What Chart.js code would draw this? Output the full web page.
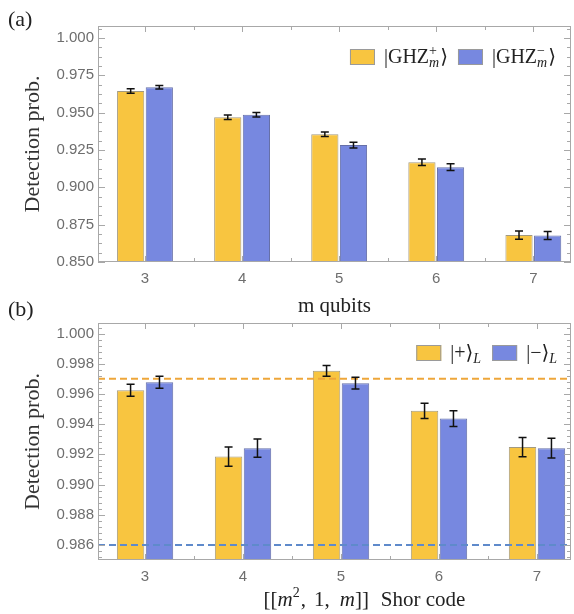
<!DOCTYPE html>
<html>
<head>
<meta charset="utf-8">
<script src="https://cdn.jsdelivr.net/npm/chart.js@4.4.1/dist/chart.umd.min.js"></script>
<style>
  body { margin: 0; background: #fff; }
  #wrap { position: relative; width: 574px; height: 614px; }
  canvas { position: absolute; left: 0; }
  #chartA { top: 0; }
  #chartB { top: 298px; }
  .painel { position: absolute; left: 8px; font: 22px "Liberation Serif", "DejaVu Serif", serif; color: #222; z-index: 2; }
</style>
</head>
<body>
<div id="wrap">
  <canvas id="chartA" width="574" height="316"></canvas>
  <canvas id="chartB" width="574" height="316"></canvas>
  <div class="painel" style="top:6px">(a)</div>
  <div class="painel" style="top:296px">(b)</div>
</div>
<script>
// Dados - painel (a): estados GHZ
const categorias = [3, 4, 5, 6, 7];
const ghzMais = [0.9645, 0.9469, 0.9355, 0.9168, 0.8680];
const ghzMaisErro = [0.0015, 0.0015, 0.0015, 0.0022, 0.0027];
const ghzMenos = [0.9670, 0.9486, 0.9283, 0.9135, 0.8677];
const ghzMenosErro = [0.0011, 0.0015, 0.0019, 0.0022, 0.0027];
const ticksA = [0.850, 0.875, 0.900, 0.925, 0.950, 0.975, 1.000];

// Dados - painel (b): código de Shor
const logicoMais = [0.99625, 0.99185, 0.99753, 0.99488, 0.99248];
const logicoMaisErro = [0.0004, 0.00064, 0.00035, 0.0005, 0.00064];
const logicoMenos = [0.99677, 0.99241, 0.99671, 0.99437, 0.99241];
const logicoMenosErro = [0.0004, 0.0006, 0.00039, 0.00052, 0.00065];
const ticksB = [0.986, 0.988, 0.990, 0.992, 0.994, 0.996, 0.998, 1.000];
const limiteLaranja = 0.997;
const limiteAzul = 0.986;

const corAmarela = '#F8C540';
const corAzul = '#7788E0';
const corTicks = '#6e6e6e';
const fonteSans = '"Liberation Sans", Arial, sans-serif';

function fonteSerif(size, italico) {
    return (italico ? 'italic ' : '') + size + 'px "Liberation Serif", "DejaVu Serif", "DejaVu Sans", serif';
}

// Texto com índices (sobrescrito / subscrito)
function textoRico(ctx, partes, x, y, size, desenhar) {
    let cx = x;
    const pequeno = Math.round(size * 0.68);
    partes.forEach(p => {
        if (p.gap) { cx += p.gap; return; }
        if (p.t !== undefined) {
            ctx.font = fonteSerif(size, p.i);
            if (desenhar) ctx.fillText(p.t, cx, y);
            cx += ctx.measureText(p.t).width;
        } else {
            let w = 0;
            if (p.sup) {
                ctx.font = fonteSerif(pequeno, false);
                if (desenhar) ctx.fillText(p.sup, cx, y - size * 0.42);
                w = Math.max(w, ctx.measureText(p.sup).width);
            }
            if (p.sub) {
                ctx.font = fonteSerif(pequeno, true);
                if (desenhar) ctx.fillText(p.sub, cx, y + size * 0.22);
                w = Math.max(w, ctx.measureText(p.sub).width);
            }
            cx += w + 1;
        }
    });
    return cx - x;
}

const extrasPlugin = {
    id: 'extras',
    afterDatasetsDraw(chart, args, opts) {
        const { ctx, chartArea: a, scales: { x, y } } = chart;
        ctx.save();

        // Linhas de referência tracejadas
        (opts.linhas || []).forEach(l => {
            const py = y.getPixelForValue(l.valor);
            ctx.strokeStyle = l.cor;
            ctx.lineWidth = 2;
            ctx.setLineDash([7, 4]);
            ctx.beginPath();
            ctx.moveTo(a.left, py);
            ctx.lineTo(a.right, py);
            ctx.stroke();
        });
        ctx.setLineDash([]);

        // Barras de erro
        ctx.strokeStyle = '#111';
        ctx.lineWidth = 1.5;
        chart.data.datasets.forEach((ds, i) => {
            const meta = chart.getDatasetMeta(i);
            meta.data.forEach((bar, j) => {
                const v = ds.data[j].y, e = ds.erros[j];
                const y1 = y.getPixelForValue(v - e), y2 = y.getPixelForValue(v + e);
                ctx.beginPath();
                ctx.moveTo(bar.x, y1); ctx.lineTo(bar.x, y2);
                ctx.moveTo(bar.x - 4, y1); ctx.lineTo(bar.x + 4, y1);
                ctx.moveTo(bar.x - 4, y2); ctx.lineTo(bar.x + 4, y2);
                ctx.stroke();
            });
        });

        // Moldura com ticks para dentro
        ctx.strokeStyle = '#a8a8a8';
        ctx.lineWidth = 1;
        ctx.strokeRect(a.left + 0.5, a.top + 0.5, a.right - a.left - 1, a.bottom - a.top - 1);
        ctx.beginPath();
        y.ticks.forEach(t => {
            const py = Math.round(y.getPixelForValue(t.value)) + 0.5;
            const len = t.label !== '' ? 7 : 4;
            ctx.moveTo(a.left, py); ctx.lineTo(a.left + len, py);
            ctx.moveTo(a.right, py); ctx.lineTo(a.right - len, py);
        });
        x.ticks.forEach(t => {
            const px = Math.round(x.getPixelForValue(t.value)) + 0.5;
            const len = t.label !== '' ? 6 : 4;
            ctx.moveTo(px, a.top); ctx.lineTo(px, a.top + len);
            ctx.moveTo(px, a.bottom); ctx.lineTo(px, a.bottom - len);
        });
        ctx.stroke();

        // Legenda
        const leg = opts.legenda;
        ctx.textBaseline = 'alphabetic';
        ctx.fillStyle = '#222';
        const larguras = leg.itens.map(it => textoRico(ctx, it.partes, 0, 0, leg.size, false));
        let total = 0;
        larguras.forEach((w, k) => { total += 25 + 9 + w + (k > 0 ? 10 : 0); });
        let lx = a.right - leg.direita - total;
        const cy = a.top + leg.topo;
        leg.itens.forEach((it, k) => {
            if (k > 0) lx += 10;
            ctx.fillStyle = it.cor;
            ctx.fillRect(lx, cy - 8, 25, 16);
            ctx.strokeStyle = '#9a9a9a';
            ctx.strokeRect(lx + 0.5, cy - 7.5, 24, 15);
            lx += 25 + 9;
            ctx.fillStyle = '#222';
            textoRico(ctx, it.partes, lx, cy + 6, leg.size, true);
            lx += larguras[k];
        });

        // Título do eixo x
        const tit = opts.tituloX;
        const wt = textoRico(ctx, tit.partes, 0, 0, tit.size, false);
        const cx = (a.left + a.right) / 2 + tit.deslocX;
        ctx.fillStyle = '#222';
        textoRico(ctx, tit.partes, cx - wt / 2, a.bottom + tit.deslocY, tit.size, true);
        ctx.restore();
    }
};

function criarPainel(canvasId, cfg) {
    const ctx = document.getElementById(canvasId).getContext('2d');
    return new Chart(ctx, {
        type: 'bar',
        data: {
            datasets: [{
                data: categorias.map((c, i) => ({ x: c, y: cfg.serie1[i] })),
                erros: cfg.erro1,
                backgroundColor: corAmarela,
                borderColor: '#a39a80',
                borderWidth: 1
            }, {
                data: categorias.map((c, i) => ({ x: c, y: cfg.serie2[i] })),
                erros: cfg.erro2,
                backgroundColor: corAzul,
                borderColor: '#6670a8',
                borderWidth: 1
            }]
        },
        options: {
            responsive: false,
            animation: false,
            // o espaçamento mínimo vem dos ticks de 0.5, por isso a fração é dobrada
            categoryPercentage: 1.18,
            barPercentage: 0.95,
            layout: { padding: { top: cfg.topo, right: 3, left: 0, bottom: 0 } },
            scales: {
                x: {
                    type: 'linear',
                    min: cfg.xMin,
                    max: cfg.xMax,
                    offset: false,
                    grid: { display: false, drawTicks: false },
                    border: { display: false },
                    ticks: {
                        stepSize: 0.5,
                        autoSkip: false,
                        includeBounds: false,
                        maxRotation: 0,
                        padding: 8,
                        color: corTicks,
                        font: { family: fonteSans, size: 15 },
                        callback: v => categorias.includes(v) ? String(v) : ''
                    },
                    afterFit: s => { s.height = 54; }
                },
                y: {
                    min: cfg.yMin,
                    max: cfg.yMax,
                    grid: { display: false, drawTicks: false },
                    border: { display: false },
                    title: {
                        display: true,
                        text: 'Detection prob.',
                        color: '#333',
                        font: { family: '"Liberation Serif", serif', size: 22 },
                        padding: { top: 20, bottom: 0 }
                    },
                    ticks: {
                        stepSize: cfg.passoMenor,
                        autoSkip: false,
                        includeBounds: false,
                        padding: 4,
                        color: corTicks,
                        font: { family: fonteSans, size: 15 },
                        callback: v => {
                            const t = cfg.ticksMaiores.find(m => Math.abs(m - v) < 1e-7);
                            return t !== undefined ? t.toFixed(3) : '';
                        }
                    },
                    afterFit: s => { s.width = 98; }
                }
            },
            plugins: {
                legend: { display: false },
                tooltip: { enabled: false },
                extras: {
                    linhas: cfg.linhas,
                    legenda: cfg.legenda,
                    tituloX: cfg.tituloX
                }
            }
        },
        plugins: [extrasPlugin]
    });
}

criarPainel('chartA', {
    serie1: ghzMais, erro1: ghzMaisErro,
    serie2: ghzMenos, erro2: ghzMenosErro,
    xMin: 2.516, xMax: 7.388,
    yMin: 0.85, yMax: 1.008,
    passoMenor: 0.00625,
    ticksMaiores: ticksA,
    topo: 26,
    linhas: [],
    legenda: {
        size: 20, direita: 15, topo: 31,
        itens: [
            { cor: corAmarela, partes: [{ t: '|GHZ' }, { sup: '+', sub: 'm' }, { t: '⟩' }] },
            { cor: corAzul, partes: [{ t: '|GHZ' }, { sup: '−', sub: 'm' }, { t: '⟩' }] }
        ]
    },
    tituloX: { size: 21, deslocX: 0, deslocY: 50, partes: [{ t: 'm qubits' }] }
});

criarPainel('chartB', {
    serie1: logicoMais, erro1: logicoMaisErro,
    serie2: logicoMenos, erro2: logicoMenosErro,
    xMin: 2.52, xMax: 7.347,
    yMin: 0.985, yMax: 1.0007,
    passoMenor: 0.0004,
    ticksMaiores: ticksB,
    topo: 25,
    linhas: [
        { valor: limiteLaranja, cor: '#EEA63A' },
        { valor: limiteAzul, cor: '#5F8ACB' }
    ],
    legenda: {
        size: 20, direita: 13, topo: 30,
        itens: [
            { cor: corAmarela, partes: [{ t: '|+⟩' }, { sub: 'L' }] },
            { cor: corAzul, partes: [{ t: '|−⟩' }, { sub: 'L' }] }
        ]
    },
    tituloX: {
        size: 21, deslocX: 30, deslocY: 46,
        partes: [{ t: '[[' }, { t: 'm', i: true }, { sup: '2' }, { t: ',' }, { gap: 8 }, { t: '1' }, { t: ',' },
                 { gap: 10 }, { t: 'm', i: true }, { t: ']]' }, { gap: 12 }, { t: 'Shor code' }]
    }
});
</script>
</body>
</html>
